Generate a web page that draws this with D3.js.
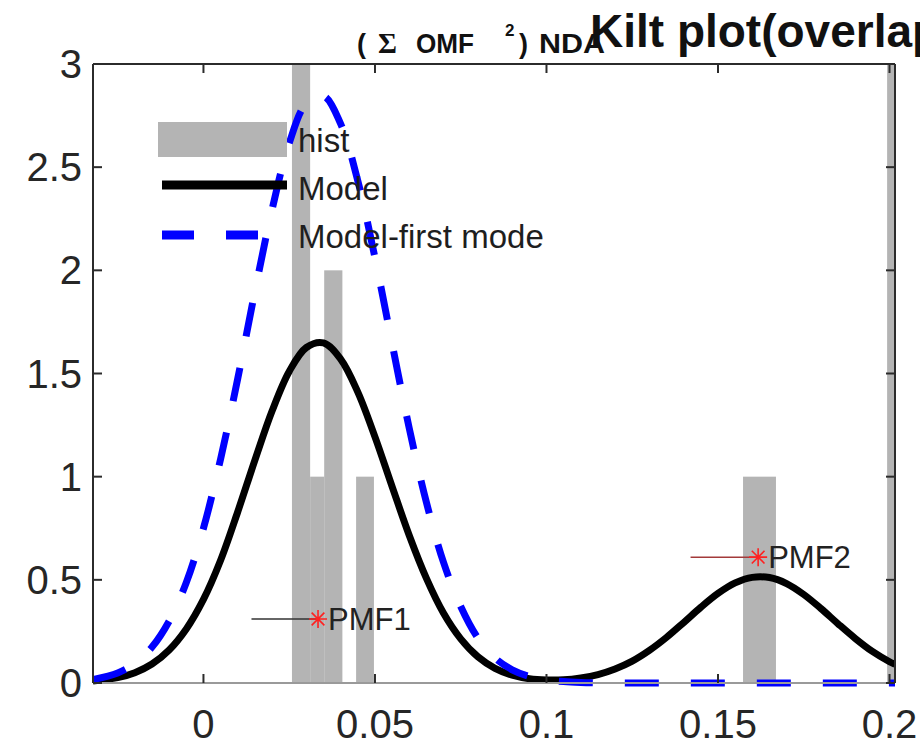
<!DOCTYPE html>
<html>
<head>
<meta charset="utf-8">
<script src="https://cdn.jsdelivr.net/npm/d3@7"></script>
<style>
    html, body { margin: 0; padding: 0; background: #fff; }
    svg { display: block; font-family: "Liberation Sans", Arial, Helvetica, sans-serif; }
</style>
</head>
<body>
<div id="chart"></div>
<script>
// values
const xGrid = [-0.0322, -0.025, -0.02, -0.015, -0.01, -0.005, 0, 0.005, 0.01, 0.015, 0.02, 0.025,
    0.03, 0.035, 0.04, 0.045, 0.05, 0.055, 0.06, 0.065, 0.07, 0.075, 0.08, 0.085, 0.09, 0.095,
    0.1, 0.105, 0.11, 0.115, 0.12, 0.125, 0.13, 0.135, 0.14, 0.145, 0.15, 0.155, 0.16, 0.165,
    0.17, 0.175, 0.18, 0.185, 0.19, 0.195, 0.2, 0.2016];
const modelValues = [0.01, 0.026, 0.05, 0.092, 0.16, 0.262, 0.405, 0.595, 0.83, 1.08, 1.318, 1.51,
    1.626, 1.648, 1.57, 1.41, 1.193, 0.952, 0.715, 0.507, 0.338, 0.214, 0.127, 0.071, 0.038, 0.021,
    0.015, 0.016, 0.025, 0.041, 0.068, 0.106, 0.158, 0.221, 0.293, 0.367, 0.434, 0.485, 0.512, 0.511,
    0.482, 0.429, 0.361, 0.287, 0.216, 0.153, 0.103, 0.09];
const firstModeValues = [0.017, 0.049, 0.094, 0.174, 0.30, 0.487, 0.75, 1.086, 1.476, 1.898, 2.294, 2.616,
    2.809, 2.845, 2.71, 2.434, 2.061, 1.644, 1.234, 0.875, 0.584, 0.371, 0.218, 0.121, 0.064, 0.032,
    0.015, 0.007, 0.003, 0.001, 0, 0, 0, 0, 0, 0, 0, 0, 0, 0,
    0, 0, 0, 0, 0, 0, 0, 0];

const binLeft = [0.0258, 0.0311, 0.0352, 0.0445, 0.1573, 0.1993];
const binRight = [0.0311, 0.0352, 0.0405, 0.0497, 0.1669, 0.2030];
const binCounts = [3, 1, 2, 1, 1, 3];

const pmfNames = ["PMF1", "PMF2"];
const pmfX = [0.0334, 0.1617];
const pmfY = [0.31, 0.61];
const pmfLineStart = [0.014, 0.142];
const pmfLineColors = ["#333333", "#a33a3a"];

const xTicks = [0, 0.05, 0.1, 0.15, 0.2];
const yTicks = [0, 0.5, 1, 1.5, 2, 2.5, 3];
const legendLabels = ["hist", "Model", "Model-first mode"];

const width = 920, height = 750;
const margin = { left: 93, right: 25, top: 64, bottom: 67 };
const innerW = width - margin.left - margin.right;
const innerH = height - margin.top - margin.bottom;

const svg = d3.select("#chart").append("svg")
    .attr("width", width)
    .attr("height", height);

const x = d3.scaleLinear().domain([-0.0322, 0.2016]).range([0, innerW]);
const y = d3.scaleLinear().domain([0, 3]).range([innerH, 0]);

const g = svg.append("g").attr("transform", `translate(${margin.left},${margin.top})`);

// clip: sides and top at the box, a little slack below so the zero line stays whole
g.append("clipPath").attr("id", "plotClip")
    .append("rect").attr("width", innerW).attr("height", innerH + 6);

const plot = g.append("g").attr("clip-path", "url(#plotClip)");

// histogram bars
const bins = binCounts.map((c, i) => ({ x0: binLeft[i], x1: binRight[i], count: c }));
plot.selectAll("rect.bar").data(bins).join("rect")
    .attr("class", "bar")
    .attr("x", d => x(d.x0))
    .attr("width", d => x(d.x1) - x(d.x0))
    .attr("y", d => y(d.count))
    .attr("height", d => y(0) - y(d.count))
    .attr("fill", "#b4b4b4");

// bar baseline
g.append("line")
    .attr("x1", 0).attr("x2", innerW)
    .attr("y1", y(0)).attr("y2", y(0))
    .attr("stroke", "#9a9a9a").attr("stroke-width", 2);

const line = d3.line()
    .x(d => x(d[0]))
    .y(d => y(d[1]))
    .curve(d3.curveCatmullRom.alpha(0.5));

plot.append("path")
    .datum(xGrid.map((v, i) => [v, modelValues[i]]))
    .attr("d", line)
    .attr("fill", "none")
    .attr("stroke", "#000")
    .attr("stroke-width", 7)
    .attr("stroke-linejoin", "round");

plot.append("path")
    .datum(xGrid.map((v, i) => [v, firstModeValues[i]]))
    .attr("d", line)
    .attr("fill", "none")
    .attr("stroke", "#0000ff")
    .attr("stroke-width", 7)
    .attr("stroke-dasharray", "34,32");

// PMF markers
function asterisk(r) {
    const d = r * Math.SQRT1_2;
    return `M${-r},0L${r},0M0,${-r}L0,${r}M${-d},${-d}L${d},${d}M${-d},${d}L${d},${-d}`;
}
pmfNames.forEach((name, i) => {
    g.append("line")
        .attr("x1", x(pmfLineStart[i])).attr("x2", x(pmfX[i]))
        .attr("y1", y(pmfY[i])).attr("y2", y(pmfY[i]))
        .attr("stroke", pmfLineColors[i]).attr("stroke-width", 1.5);
    g.append("path")
        .attr("transform", `translate(${x(pmfX[i])},${y(pmfY[i])})`)
        .attr("d", asterisk(9))
        .attr("stroke", "#ff2020").attr("stroke-width", 1.6).attr("fill", "none");
    g.append("text")
        .attr("x", x(pmfX[i]) + 10)
        .attr("y", y(pmfY[i]) + 11)
        .attr("font-size", 31)
        .attr("fill", "#222")
        .text(name);
});

// axes box (MATLAB style, ticks inside)
const tickLen = 9;
const axisColor = "#2b2b2b";
g.append("line").attr("x1", 0).attr("x2", 0).attr("y1", 0).attr("y2", innerH)
    .attr("stroke", axisColor).attr("stroke-width", 2);
g.append("line").attr("x1", innerW).attr("x2", innerW).attr("y1", 0).attr("y2", innerH)
    .attr("stroke", axisColor).attr("stroke-width", 2);
g.append("line").attr("x1", 0).attr("x2", innerW).attr("y1", 0).attr("y2", 0)
    .attr("stroke", axisColor).attr("stroke-width", 2);

xTicks.forEach(t => {
    g.append("line").attr("x1", x(t)).attr("x2", x(t)).attr("y1", 0).attr("y2", tickLen)
        .attr("stroke", axisColor).attr("stroke-width", 2);
    g.append("line").attr("x1", x(t)).attr("x2", x(t)).attr("y1", innerH).attr("y2", innerH - tickLen)
        .attr("stroke", axisColor).attr("stroke-width", 2);
});
yTicks.forEach(t => {
    g.append("line").attr("x1", 0).attr("x2", tickLen).attr("y1", y(t)).attr("y2", y(t))
        .attr("stroke", axisColor).attr("stroke-width", 2);
    g.append("line").attr("x1", innerW).attr("x2", innerW - tickLen).attr("y1", y(t)).attr("y2", y(t))
        .attr("stroke", axisColor).attr("stroke-width", 2);
});

g.selectAll("text.xlab").data(xTicks).join("text")
    .attr("class", "xlab")
    .attr("x", d => x(d))
    .attr("y", innerH + 55)
    .attr("text-anchor", "middle")
    .attr("font-size", 40)
    .attr("fill", "#262626")
    .text(d => d);

g.selectAll("text.ylab").data(yTicks).join("text")
    .attr("class", "ylab")
    .attr("x", -11)
    .attr("y", d => y(d) + 14)
    .attr("text-anchor", "end")
    .attr("font-size", 40)
    .attr("fill", "#262626")
    .text(d => d);

// legend (no box)
const legend = svg.append("g").attr("transform", "translate(158,122)");
legend.append("rect").attr("x", 0).attr("y", 0).attr("width", 129).attr("height", 35)
    .attr("fill", "#b4b4b4");
legend.append("line").attr("x1", 4).attr("x2", 129).attr("y1", 63).attr("y2", 63)
    .attr("stroke", "#000").attr("stroke-width", 9);
legend.append("line").attr("x1", 4).attr("x2", 129).attr("y1", 113).attr("y2", 113)
    .attr("stroke", "#0000ff").attr("stroke-width", 9).attr("stroke-dasharray", "32,32");
legend.selectAll("text").data(legendLabels).join("text")
    .attr("x", 140)
    .attr("y", (d, i) => 30 + i * 48)
    .attr("font-size", 33)
    .attr("fill", "#1e1e1e")
    .text(d => d);

// title pieces (overlapping, as in the reference)
const title = svg.append("g").attr("font-weight", "bold").attr("fill", "#111");
title.append("text").attr("x", 357).attr("y", 53).attr("font-size", 27).text("(");
title.append("text").attr("x", 378).attr("y", 53).attr("font-size", 29)
    .attr("font-family", "'Liberation Serif', 'DejaVu Serif', serif").text("Σ");
title.append("text").attr("x", 416).attr("y", 53).attr("font-size", 27)
    .attr("textLength", 58).attr("lengthAdjust", "spacingAndGlyphs").text("OMF");
title.append("text").attr("x", 505).attr("y", 36).attr("font-size", 17).text("2");
title.append("text").attr("x", 519).attr("y", 53).attr("font-size", 27).text(")");
title.append("text").attr("x", 539).attr("y", 53).attr("font-size", 27)
    .attr("textLength", 66).attr("lengthAdjust", "spacingAndGlyphs").text("NDA");
title.append("text").attr("x", 590).attr("y", 47).attr("font-size", 46).text("Kilt plot(overlap)");
</script>
</body>
</html>
